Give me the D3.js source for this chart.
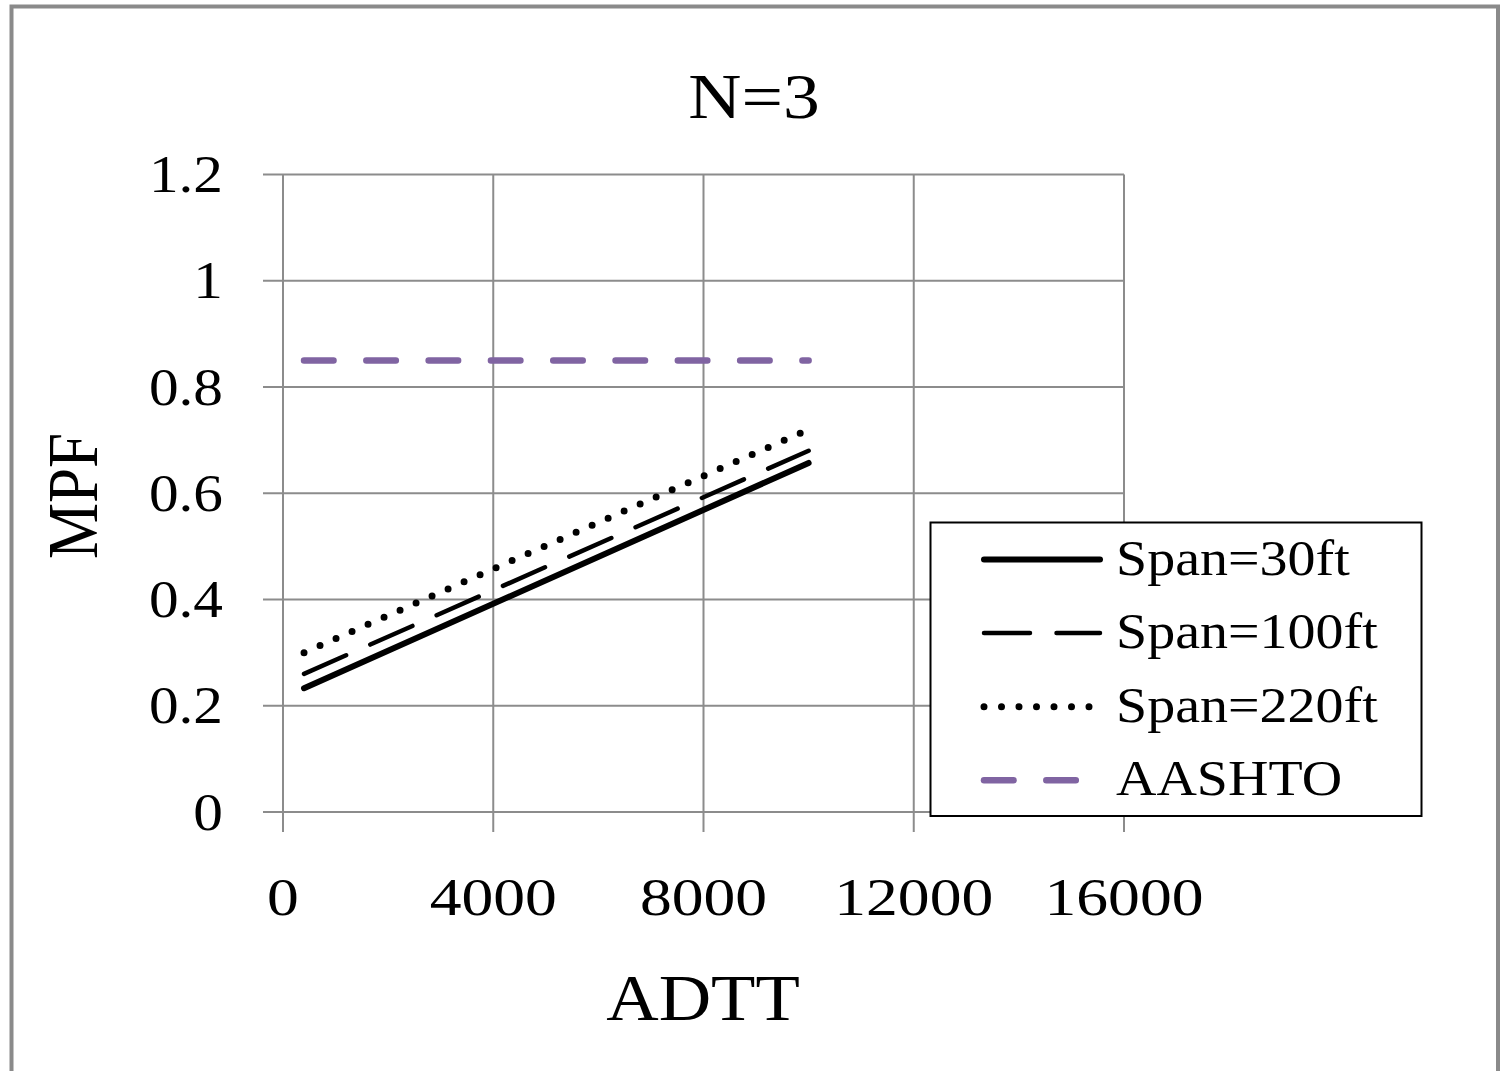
<!DOCTYPE html>
<html>
<head>
<meta charset="utf-8">
<script src="https://cdn.jsdelivr.net/npm/d3@7"></script>
<style>
  html, body { margin: 0; padding: 0; background: #fff; }
  svg { display: block; }
  text { font-family: "Liberation Serif", "Times New Roman", serif; fill: #000; }
</style>
</head>
<body>
<svg id="chart" width="1506" height="1071"></svg>
<script>
// ADTT sample points and MPF values for each span length
const adtt = [400, 10000];
const span30 = [0.233, 0.657];
const span100 = [0.26, 0.68];
const span220 = [0.30, 0.72];
const aashto = [0.85, 0.85];

const seriesNames = ["Span=30ft", "Span=100ft", "Span=220ft", "AASHTO"];
const xTicks = [0, 4000, 8000, 12000, 16000];
const yTicks = [0, 0.2, 0.4, 0.6, 0.8, 1, 1.2];
const titleText = "N=3";
const xTitle = "ADTT";
const yTitle = "MPF";

const series = [
  { name: seriesNames[0], values: span30, color: "#000", width: 6, dash: null },
  { name: seriesNames[1], values: span100, color: "#000", width: 4.5, dash: "46,26.5" },
  { name: seriesNames[2], values: span220, color: "#000", width: 7, dash: "0,17.5" },
  { name: seriesNames[3], values: aashto, color: "#8064A2", width: 6.5, dash: "29.5,32.8" }
];

const svg = d3.select("#chart");
const plotLeft = 283, plotRight = 1124, plotTop = 174.5, plotBottom = 812;

const x = d3.scaleLinear().domain([0, 16000]).range([plotLeft, plotRight]);
const y = d3.scaleLinear().domain([0, 1.2]).range([plotBottom, plotTop]);

// Outer chart frame
svg.append("rect")
  .attr("x", 11.5).attr("y", 6.5)
  .attr("width", 1486.5).attr("height", 1090)
  .attr("fill", "#fff")
  .attr("stroke", "#8a8a8a").attr("stroke-width", 4);

// Stretched serif text helper
function label(g, txt, px, py, size, sx, anchor, rot, sy) {
  return g.append("text")
    .attr("transform", `translate(${px},${py})` + (rot ? ` rotate(${rot})` : "") + ` scale(${sx},${sy || 1})`)
    .attr("font-size", size)
    .attr("text-anchor", anchor)
    .text(txt);
}

const grid = svg.append("g");
const gridColor = "#8c8c8c";

// Horizontal gridlines (with left tick stubs)
grid.selectAll("line.h").data(yTicks).join("line")
  .attr("class", "h")
  .attr("x1", plotLeft - 20).attr("x2", plotRight)
  .attr("y1", d => y(d)).attr("y2", d => y(d))
  .attr("stroke", gridColor).attr("stroke-width", 2);

// Vertical gridlines (with bottom tick stubs)
grid.selectAll("line.v").data(xTicks).join("line")
  .attr("class", "v")
  .attr("x1", d => x(d)).attr("x2", d => x(d))
  .attr("y1", plotTop).attr("y2", plotBottom + 20)
  .attr("stroke", gridColor).attr("stroke-width", 2);

// Tick labels
const tl = svg.append("g");
yTicks.forEach(v => {
  label(tl, d3.format("~g")(v), 223, y(v) + 17.5, 52, 1.14, "end");
});
xTicks.forEach(v => {
  label(tl, String(v), x(v), 915, 53, 1.2, "middle");
});

// Titles
label(svg, titleText, 754, 118, 64, 1.15, "middle");
label(svg, xTitle, 703, 1020, 66, 1.1, "middle");
label(svg, yTitle, 97, 496, 63, 1.0, "middle", -90, 1.15);

// Series lines
const line = d3.line().x((d, i) => x(adtt[i])).y(d => y(d));
const plot = svg.append("g");
series.forEach(s => {
  plot.append("path")
    .datum(s.values)
    .attr("d", line)
    .attr("fill", "none")
    .attr("stroke", s.color)
    .attr("stroke-width", s.width)
    .attr("stroke-linecap", "round")
    .attr("stroke-dasharray", s.dash);
});

// Legend
const lg = svg.append("g");
lg.append("rect")
  .attr("x", 930.5).attr("y", 522.5)
  .attr("width", 491).attr("height", 293.5)
  .attr("fill", "#fff")
  .attr("stroke", "#000").attr("stroke-width", 2);

series.forEach((s, i) => {
  const ly = 559.5 + i * 73.6;
  lg.append("line")
    .attr("x1", 984).attr("x2", 1100)
    .attr("y1", ly).attr("y2", ly)
    .attr("stroke", s.color)
    .attr("stroke-width", s.width)
    .attr("stroke-linecap", "round")
    .attr("stroke-dasharray", s.dash);
  label(lg, s.name, 1116, ly + 15, 50, 1.12, "start");
});
</script>
</body>
</html>
